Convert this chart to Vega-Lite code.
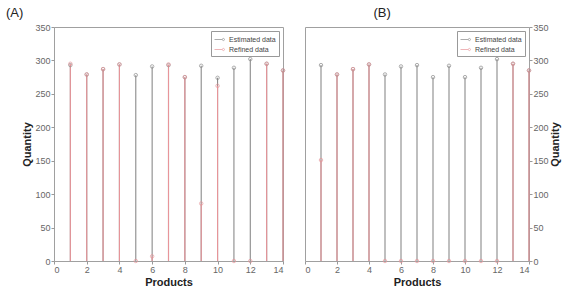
{
  "$schema": "https://vega.github.io/schema/vega-lite/v6.json",
  "padding": {"left": 5, "top": 6, "right": 5, "bottom": 5},
  "background": "white",
  "spacing": 16,
  "datasets": {
    "rows": [
      {"panel": "A", "product": 1, "series": "Estimated data", "value": 293},
      {"panel": "A", "product": 2, "series": "Estimated data", "value": 279},
      {"panel": "A", "product": 3, "series": "Estimated data", "value": 287},
      {"panel": "A", "product": 4, "series": "Estimated data", "value": 294},
      {"panel": "A", "product": 5, "series": "Estimated data", "value": 278},
      {"panel": "A", "product": 6, "series": "Estimated data", "value": 291},
      {"panel": "A", "product": 7, "series": "Estimated data", "value": 293},
      {"panel": "A", "product": 8, "series": "Estimated data", "value": 275},
      {"panel": "A", "product": 9, "series": "Estimated data", "value": 292},
      {"panel": "A", "product": 10, "series": "Estimated data", "value": 274},
      {"panel": "A", "product": 11, "series": "Estimated data", "value": 289},
      {"panel": "A", "product": 12, "series": "Estimated data", "value": 302},
      {"panel": "A", "product": 13, "series": "Estimated data", "value": 295},
      {"panel": "A", "product": 14, "series": "Estimated data", "value": 285},
      {"panel": "A", "product": 1, "series": "Refined data", "value": 295},
      {"panel": "A", "product": 2, "series": "Refined data", "value": 279},
      {"panel": "A", "product": 3, "series": "Refined data", "value": 287},
      {"panel": "A", "product": 4, "series": "Refined data", "value": 294},
      {"panel": "A", "product": 5, "series": "Refined data", "value": 0},
      {"panel": "A", "product": 6, "series": "Refined data", "value": 7},
      {"panel": "A", "product": 7, "series": "Refined data", "value": 294},
      {"panel": "A", "product": 8, "series": "Refined data", "value": 275},
      {"panel": "A", "product": 9, "series": "Refined data", "value": 86},
      {"panel": "A", "product": 10, "series": "Refined data", "value": 262},
      {"panel": "A", "product": 11, "series": "Refined data", "value": 0},
      {"panel": "A", "product": 12, "series": "Refined data", "value": 0},
      {"panel": "A", "product": 13, "series": "Refined data", "value": 295},
      {"panel": "A", "product": 14, "series": "Refined data", "value": 285},
      {"panel": "B", "product": 1, "series": "Estimated data", "value": 293},
      {"panel": "B", "product": 2, "series": "Estimated data", "value": 279},
      {"panel": "B", "product": 3, "series": "Estimated data", "value": 287},
      {"panel": "B", "product": 4, "series": "Estimated data", "value": 294},
      {"panel": "B", "product": 5, "series": "Estimated data", "value": 279},
      {"panel": "B", "product": 6, "series": "Estimated data", "value": 291},
      {"panel": "B", "product": 7, "series": "Estimated data", "value": 293},
      {"panel": "B", "product": 8, "series": "Estimated data", "value": 275},
      {"panel": "B", "product": 9, "series": "Estimated data", "value": 292},
      {"panel": "B", "product": 10, "series": "Estimated data", "value": 275},
      {"panel": "B", "product": 11, "series": "Estimated data", "value": 289},
      {"panel": "B", "product": 12, "series": "Estimated data", "value": 302},
      {"panel": "B", "product": 13, "series": "Estimated data", "value": 295},
      {"panel": "B", "product": 14, "series": "Estimated data", "value": 285},
      {"panel": "B", "product": 1, "series": "Refined data", "value": 151},
      {"panel": "B", "product": 2, "series": "Refined data", "value": 279},
      {"panel": "B", "product": 3, "series": "Refined data", "value": 287},
      {"panel": "B", "product": 4, "series": "Refined data", "value": 294},
      {"panel": "B", "product": 5, "series": "Refined data", "value": 0},
      {"panel": "B", "product": 6, "series": "Refined data", "value": 0},
      {"panel": "B", "product": 7, "series": "Refined data", "value": 0},
      {"panel": "B", "product": 8, "series": "Refined data", "value": 0},
      {"panel": "B", "product": 9, "series": "Refined data", "value": 0},
      {"panel": "B", "product": 10, "series": "Refined data", "value": 0},
      {"panel": "B", "product": 11, "series": "Refined data", "value": 0},
      {"panel": "B", "product": 12, "series": "Refined data", "value": 0},
      {"panel": "B", "product": 13, "series": "Refined data", "value": 295},
      {"panel": "B", "product": 14, "series": "Refined data", "value": 285}
    ]
  },
  "hconcat": [
    {
      "width": 229,
      "height": 234,
      "title": {"text": "(A)", "anchor": "start", "dx": -16, "offset": 3},
      "data": {"name": "rows"},
      "transform": [{"filter": "datum.panel === 'A'"}],
      "encoding": {
        "x": {"field": "product", "type": "quantitative", "scale": {"domain": [0, 14], "nice": false}, "axis": {"values": [0, 2, 4, 6, 8, 10, 12, 14], "title": "Products"}},
        "y": {"field": "value", "type": "quantitative", "scale": {"domain": [0, 350], "nice": false}, "axis": {"values": [0, 50, 100, 150, 200, 250, 300, 350], "title": "Quantity", "orient": "left"}},
        "color": {"field": "series", "type": "nominal", "scale": {"domain": ["Estimated data", "Refined data"], "range": ["#8a8a8a", "#e8959a"]}, "legend": {"orient": "top-right", "offsetX": 1}}
      },
      "layer": [
        {"mark": {"type": "rule", "strokeWidth": 1.1}, "encoding": {"y2": {"datum": 0}}},
        {"mark": {"type": "point", "shape": "circle", "filled": false, "size": 12, "strokeWidth": 1}}
      ]
    },
    {
      "width": 224,
      "height": 234,
      "title": {"text": "(B)", "anchor": "start", "dx": 69, "offset": 3},
      "data": {"name": "rows"},
      "transform": [{"filter": "datum.panel === 'B'"}],
      "encoding": {
        "x": {"field": "product", "type": "quantitative", "scale": {"domain": [0, 14], "nice": false}, "axis": {"values": [0, 2, 4, 6, 8, 10, 12, 14], "title": "Products"}},
        "y": {"field": "value", "type": "quantitative", "scale": {"domain": [0, 350], "nice": false}, "axis": {"values": [0, 50, 100, 150, 200, 250, 300, 350], "title": "Quantity", "orient": "right", "titleAngle": 270, "titleBaseline": "middle", "titleAlign": "center", "titleX": 26, "titleY": 117}},
        "color": {"field": "series", "type": "nominal", "scale": {"domain": ["Estimated data", "Refined data"], "range": ["#8a8a8a", "#e8959a"]}, "legend": {"orient": "top-right", "offsetX": 3}}
      },
      "layer": [
        {"mark": {"type": "rule", "strokeWidth": 1.1}, "encoding": {"y2": {"datum": 0}}},
        {"mark": {"type": "point", "shape": "circle", "filled": false, "size": 12, "strokeWidth": 1}}
      ]
    }
  ],
  "resolve": {"scale": {"color": "independent"}, "legend": {"color": "independent"}},
  "config": {
    "font": "Liberation Sans",
    "view": {"stroke": "#a0a0a0", "strokeWidth": 1},
    "title": {"fontSize": 13, "fontWeight": "normal", "color": "#222"},
    "axis": {
      "grid": false,
      "domain": false,
      "tickColor": "#999",
      "tickSize": 3,
      "labelColor": "#666",
      "labelFontSize": 9,
      "labelPadding": 1,
      "titleFontSize": 11,
      "titleFontWeight": "bold",
      "titleColor": "#222",
      "titlePadding": 2
    },
    "legend": {
      "title": null,
      "labelFontSize": 7,
      "labelColor": "#444",
      "strokeColor": "#999",
      "fillColor": "white",
      "padding": 3,
      "rowPadding": 1,
      "offset": 4,
      "symbolType": "M-1,0H0.55M1,0A0.22,0.22 0 1,1 0.56,0A0.22,0.22 0 1,1 1,0",
      "symbolSize": 100,
      "symbolStrokeWidth": 1,
      "symbolFillColor": "transparent",
      "labelOffset": 4
    }
  }
}
